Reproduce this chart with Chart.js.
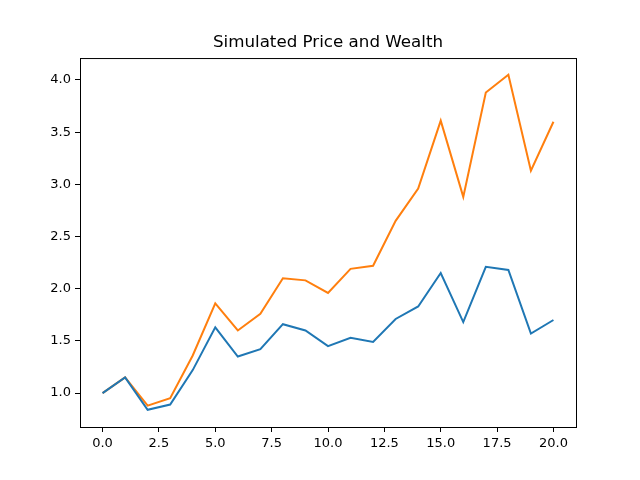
<!DOCTYPE html>
<html>
<head>
<meta charset="utf-8">
<script src="https://cdn.jsdelivr.net/npm/chart.js@4"></script>
<style>
  body { margin: 0; background: #fff; }
  canvas { display: block; }
</style>
</head>
<body>
<canvas id="sim" width="640" height="480"></canvas>
<script>
const steps = [0, 1, 2, 3, 4, 5, 6, 7, 8, 9, 10, 11, 12, 13, 14, 15, 16, 17, 18, 19, 20]
const price = [1.00, 1.15, 0.84, 0.89, 1.22, 1.63, 1.35, 1.42, 1.66, 1.60, 1.45,
               1.53, 1.49, 1.71, 1.83, 2.15, 1.68, 2.21, 2.18, 1.57, 1.70]
const wealth = [1.00, 1.15, 0.88, 0.95, 1.36, 1.86, 1.60, 1.76, 2.10, 2.08, 1.96,
                2.19, 2.22, 2.65, 2.96, 3.61, 2.88, 3.88, 4.05, 3.13, 3.60]
const xTicks = [0, 2.5, 5, 7.5, 10, 12.5, 15, 17.5, 20]
const yTicks = [1.0, 1.5, 2.0, 2.5, 3.0, 3.5, 4.0]

const toPoints = vals => steps.map((s, i) => ({x: s, y: vals[i]}))

// top and right spines, matplotlib style
const frame = {
    id: 'frame',
    afterDraw(chart) {
        const {ctx, chartArea: a} = chart
        ctx.save()
        ctx.strokeStyle = '#000'
        ctx.lineWidth = 1
        ctx.strokeRect(a.left + 0.5, a.top + 0.5, a.right - a.left, a.bottom - a.top)
        ctx.restore()
    }
}

const tickFont = {family: 'DejaVu Sans', size: 13}

new Chart(document.querySelector('#sim'), {
    type: 'line',
    data: {
        datasets: [
            {label: 'Price', data: toPoints(price), borderColor: '#1f77b4'},
            {label: 'Wealth', data: toPoints(wealth), borderColor: '#ff7f0e'}
        ]
    },
    options: {
        responsive: false,
        animation: false,
        layout: {padding: {left: 16, right: 0, top: 0, bottom: 0}},
        elements: {
            point: {radius: 0},
            line: {borderWidth: 2, tension: 0, fill: false}
        },
        plugins: {
            legend: {display: false},
            tooltip: {enabled: false},
            title: {
                display: true,
                text: 'Simulated Price and Wealth',
                color: '#000',
                font: {family: 'DejaVu Sans', size: 16.7, weight: 'normal'},
                padding: {top: 33, bottom: 5}
            }
        },
        scales: {
            x: {
                type: 'linear',
                min: -1,
                max: 21,
                afterBuildTicks: s => { s.ticks = xTicks.map(v => ({value: v})) },
                afterFit: s => { s.height = 53 },
                ticks: {
                    color: '#000',
                    font: tickFont,
                    padding: 4,
                    maxRotation: 0,
                    callback: v => v.toFixed(1)
                },
                grid: {drawOnChartArea: false, drawTicks: true, tickLength: 5, color: '#000'},
                border: {display: true, color: '#000'}
            },
            y: {
                type: 'linear',
                min: 0.675,
                max: 4.21,
                afterBuildTicks: s => { s.ticks = yTicks.map(v => ({value: v})) },
                afterFit: s => { s.width = 64 },
                ticks: {
                    color: '#000',
                    font: tickFont,
                    padding: 4,
                    callback: v => v.toFixed(1)
                },
                grid: {drawOnChartArea: false, drawTicks: true, tickLength: 5, color: '#000'},
                border: {display: true, color: '#000'}
            },
            // empty right axis, only reserves the right margin
            yRight: {
                type: 'linear',
                position: 'right',
                afterFit: s => { s.width = 64 },
                ticks: {display: false},
                grid: {display: false},
                border: {display: false}
            }
        }
    },
    plugins: [frame]
})
</script>
</body>
</html>
